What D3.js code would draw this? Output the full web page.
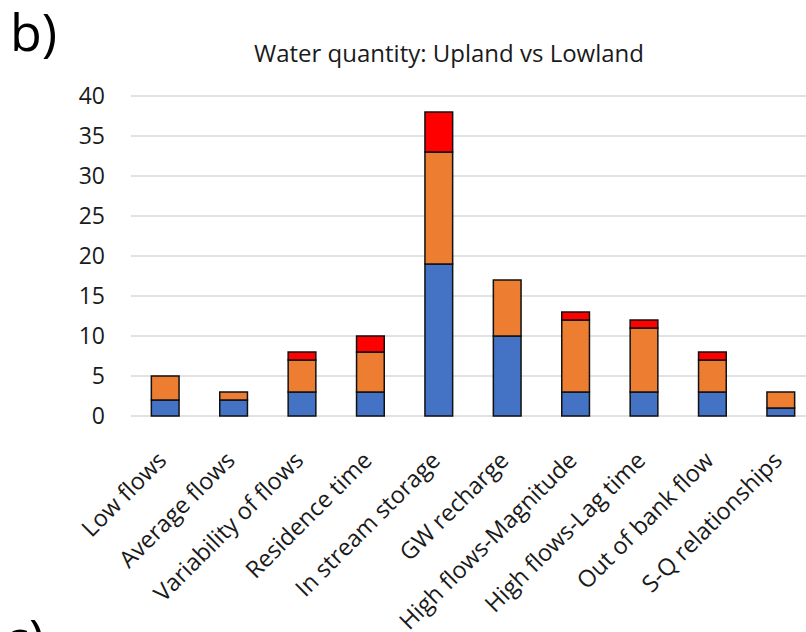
<!DOCTYPE html>
<html>
<head>
<meta charset="utf-8">
<script src="https://cdn.jsdelivr.net/npm/d3@7"></script>
<style>
  body { margin: 0; background: #fff; }
  svg { display: block; }
</style>
</head>
<body>
<script>
// ---- data ----
const categories = ["Low flows", "Average flows", "Variability of flows", "Residence time",
  "In stream storage", "GW recharge", "High flows-Magnitude", "High flows-Lag time",
  "Out of bank flow", "S-Q relationships"];
const upland   = [2, 2, 3, 3, 19, 10, 3, 3, 3, 1];   // blue
const lowland  = [3, 1, 4, 5, 14, 7, 9, 8, 4, 2];    // orange
const both     = [0, 0, 1, 2, 5, 0, 1, 1, 1, 0];     // red
const yTicks   = [0, 5, 10, 15, 20, 25, 30, 35, 40];

const seriesKeys = ["upland", "lowland", "both"];
const colors = { upland: "#4472C4", lowland: "#ED7D31", both: "#FF0000" };

const width = 806, height = 632;
const font = "'Open Sans', sans-serif";

const rows = categories.map((c, i) => ({ name: c, upland: upland[i], lowland: lowland[i], both: both[i] }));
const stacked = d3.stack().keys(seriesKeys)(rows);

const x = d3.scaleBand()
  .domain(categories)
  .range([131, 815])
  .paddingInner(0.595)
  .paddingOuter(0.2975);

const y = d3.scaleLinear()
  .domain([0, 40])
  .range([416, 96]);

const svg = d3.select("body").append("svg")
  .attr("width", width)
  .attr("height", height)
  .style("font-family", font);

// panel letters
svg.append("text").attr("x", 10).attr("y", 51)
  .style("font-size", "52px").attr("fill", "#000").text("b)");
svg.append("text").attr("x", 4).attr("y", 657)
  .style("font-size", "52px").attr("fill", "#000").text("c)");

// title
svg.append("text")
  .attr("x", 449).attr("y", 62)
  .attr("text-anchor", "middle")
  .style("font-size", "24px")
  .attr("fill", "#1a1a1a")
  .text("Water quantity: Upland vs Lowland");

// gridlines
svg.append("g")
  .selectAll("line")
  .data(yTicks)
  .join("line")
    .attr("x1", 131).attr("x2", width)
    .attr("y1", d => y(d)).attr("y2", d => y(d))
    .attr("stroke", "#d9d9d9")
    .attr("stroke-width", 1.5);

// y axis labels
const yAxis = svg.append("g")
  .attr("transform", "translate(105,0)")
  .call(d3.axisLeft(y).tickValues(yTicks).tickSize(0).tickPadding(0));
yAxis.select(".domain").remove();
yAxis.selectAll("text")
  .style("font-family", font)
  .style("font-size", "23px")
  .attr("fill", "#1a1a1a");

// bars
svg.append("g")
  .selectAll("g")
  .data(stacked)
  .join("g")
    .attr("fill", d => colors[d.key])
  .selectAll("rect")
  .data(d => d.filter(s => s[1] > s[0]))
  .join("rect")
    .attr("x", d => x(d.data.name))
    .attr("width", x.bandwidth())
    .attr("y", d => y(d[1]))
    .attr("height", d => y(d[0]) - y(d[1]))
    .attr("stroke", "#111")
    .attr("stroke-width", 1.5);

// x labels rotated
svg.append("g")
  .selectAll("text")
  .data(categories)
  .join("text")
    .attr("transform", d => `translate(${x(d) + x.bandwidth() / 2 - 3},${456}) rotate(-45)`)
    .attr("text-anchor", "end")
    .attr("dy", "0.35em")
    .style("font-size", "23.5px")
    .attr("fill", "#1a1a1a")
    .text(d => d);
</script>
</body>
</html>
